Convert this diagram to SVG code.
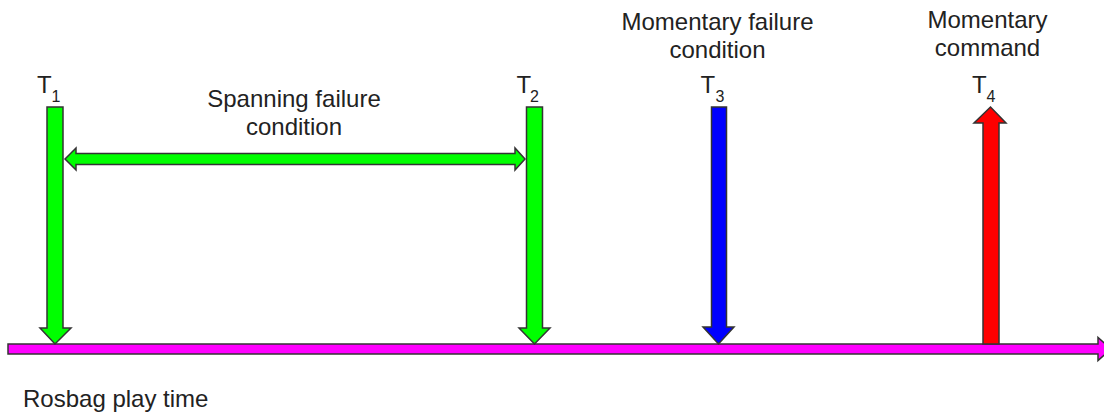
<svg xmlns="http://www.w3.org/2000/svg" width="1104" height="414" viewBox="0 0 1104 414">
<style>
  .t { font-family: "Liberation Sans", Arial, sans-serif; font-size: 24px; fill: #222; }
  .c { text-anchor: middle; }
  .s { font-size: 16px; }
  .ar { stroke: #333; stroke-width: 1.5; stroke-linejoin: miter; }
  .g { fill: #00ff00; }
  .b { fill: #0000ff; }
  .r { fill: #ff0000; }
  .m { fill: #ff00ff; }
</style>
<rect width="1104" height="414" fill="#ffffff"/>
<g id="connectors">
  <path id="timeline" class="ar m" d="M8,344 H1098 V337.5 L1111,349 L1098,360.5 V354 H8 Z"/>
  <path id="arrow-t1" class="ar g" d="M47,107 H63 V328 H71 L55,344 L40,328 H47 Z"/>
  <path id="arrow-t2" class="ar g" d="M526.5,107 H542.5 V328 H550 L534.5,344 L519,328 H526.5 Z"/>
  <path id="arrow-t3" class="ar b" d="M711.5,107 H726.5 V327 H734 L718.5,344 L703,327 H711.5 Z"/>
  <path id="arrow-t4" class="ar r" d="M983,344 V123 H974 L990.5,107 L1006,123 H999 V344 Z"/>
  <path id="span-arrow" class="ar g" d="M65,159 L76,148 V153.5 H515 V148 L525,159 L515,170 V164.5 H76 V170 Z"/>
</g>
<g id="label-t1"><text class="t" x="37" y="93">T</text><text class="t s" x="51.5" y="102">1</text></g>
<g id="label-t2"><text class="t" x="516.5" y="93">T</text><text class="t s" x="530" y="102">2</text></g>
<g id="label-t3"><text class="t" x="700.5" y="93">T</text><text class="t s" x="715.5" y="102">3</text></g>
<g id="label-t4"><text class="t" x="972" y="93">T</text><text class="t s" x="986.5" y="102">4</text></g>
<g id="spanning-label"><text class="t c" x="294" y="107">Spanning failure</text><text class="t c" x="294" y="135">condition</text></g>
<g id="momentary-failure-label"><text class="t c" x="717.5" y="30">Momentary failure</text><text class="t c" x="717.5" y="58">condition</text></g>
<g id="momentary-command-label"><text class="t c" x="987.5" y="28">Momentary</text><text class="t c" x="987.5" y="56">command</text></g>
<g id="rosbag-label"><text class="t" x="23" y="407">Rosbag play time</text></g>
</svg>
